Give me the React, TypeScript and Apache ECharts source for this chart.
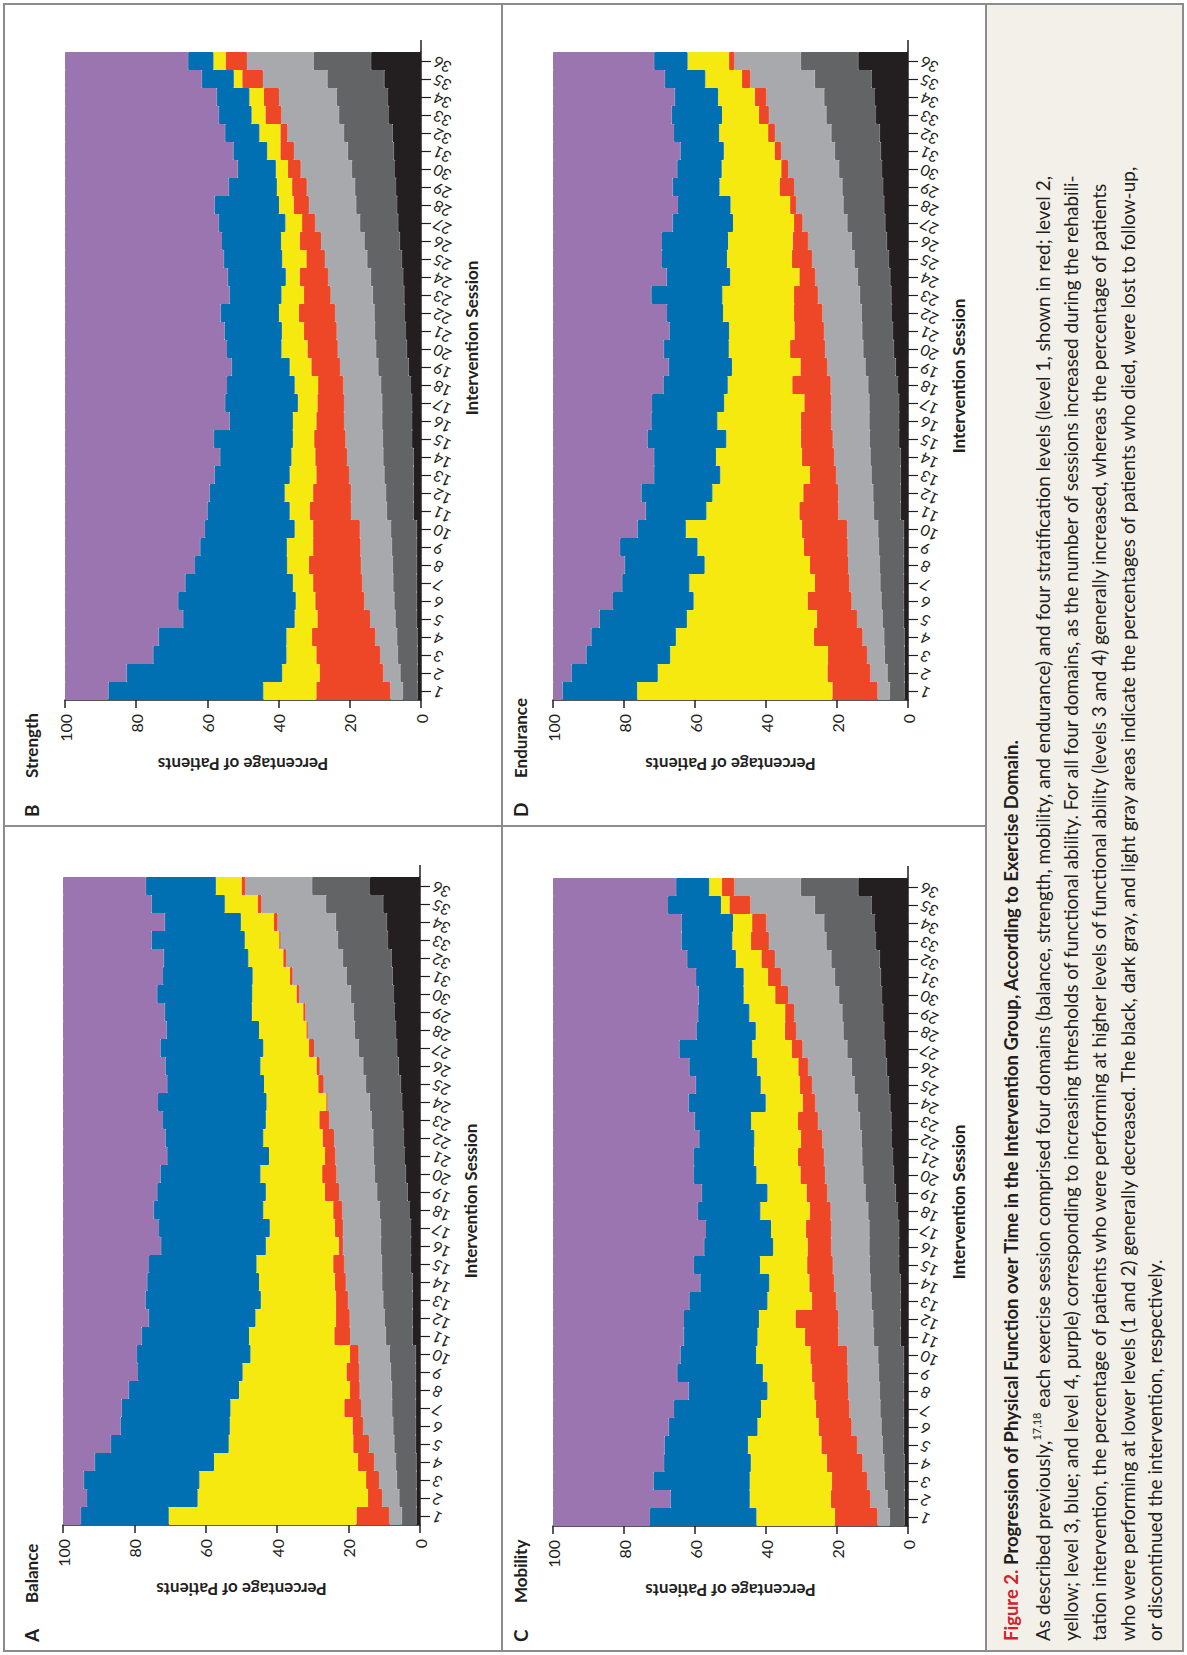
import React, { useEffect, useRef } from "react";
import * as echarts from "echarts";

const FONT = "Lato, 'Open Sans', 'DejaVu Sans', sans-serif";
const INK = "#231f20";

const sessions = ["1","2","3","4","5","6","7","8","9","10","11","12","13","14","15","16","17","18","19","20","21","22","23","24","25","26","27","28","29","30","31","32","33","34","35","36"];

// shared across the four domains (patient status)
const died = [1.0,1.0,1.0,1.0,1.2,1.2,1.2,1.2,1.2,1.2,2.1,2.1,2.1,2.1,2.5,2.5,2.5,2.8,3.5,4.0,4.2,4.5,4.7,5.0,5.4,6.0,6.4,6.7,7.0,7.3,7.7,8.0,9.0,9.3,10.3,14.0];
const lostToFollowUp = [4.1,4.8,5.5,5.7,6.0,6.3,6.6,6.7,7.0,7.2,7.5,7.7,8.2,8.5,8.2,8.4,8.4,8.4,8.5,8.6,8.7,8.6,8.9,9.1,9.7,9.9,10.7,11.5,11.5,12.1,12.9,13.6,14.0,14.3,16.0,16.2];
const discontinued = [3.5,4.8,5.0,6.1,7.1,8.4,8.7,9.0,8.8,8.8,10.0,9.9,9.9,10.2,10.5,10.7,10.7,10.6,10.7,10.8,10.8,11.0,11.8,12.0,11.9,12.2,12.6,13.3,13.6,14.4,15.1,15.9,16.2,16.3,18.1,18.7];

// A Balance
const balanceL1 = [9.2,4.0,3.6,4.6,4.4,3.0,4.7,2.7,3.6,2.4,4.4,3.9,3.4,3.0,3.1,1.2,2.2,2.5,3.9,4.0,2.9,3.2,2.8,0.1,1.5,0.9,1.4,0.3,0.6,0.8,0.7,0.8,0.2,1.0,1.1,1.1];
const balanceL2 = [52.6,47.7,46.7,40.3,34.9,34.4,31.9,31.1,29.1,27.9,23.9,22.5,21.0,21.3,21.5,20.4,18.3,19.6,16.6,17.3,15.7,16.6,15.0,16.8,15.2,15.7,12.8,13.3,14.4,12.4,10.5,9.8,9.7,9.3,9.2,7.2];
const balanceL3 = [24.6,31.0,32.4,33.4,33.0,30.6,30.5,30.9,29.3,31.8,30.1,29.9,32.3,31.3,30.1,29.3,31.0,30.7,30.4,28.0,28.5,27.4,28.8,30.4,27.1,26.6,28.8,25.9,24.4,26.6,25.1,23.7,26.1,21.3,20.5,19.6];
const balanceL4 = [5.0,6.7,5.8,8.9,13.4,16.1,16.4,18.4,21.0,20.7,22.0,24.0,23.1,23.6,24.1,27.5,26.9,25.4,26.4,27.3,29.2,28.7,28.0,26.6,29.2,28.7,27.3,29.0,28.5,26.4,28.0,28.2,24.8,28.5,24.8,23.2];

// B Strength
const strengthL1 = [20.8,17.9,17.9,17.8,14.8,13.8,13.8,14.6,13.3,13.1,11.7,10.6,9.2,8.9,8.8,7.8,7.5,7.1,8.1,8.5,9.2,10.2,7.5,8.0,5.2,6.0,3.7,4.3,4.1,3.6,3.8,2.0,4.5,4.2,5.8,6.0];
const strengthL2 = [14.9,10.5,8.4,7.2,6.4,5.5,5.7,6.1,7.4,5.2,5.6,8.0,7.5,6.7,6.0,6.6,5.5,6.6,6.1,7.3,6.2,5.6,6.3,3.9,6.8,5.2,4.7,4.1,4.3,3.4,3.7,5.9,3.9,4.1,2.4,3.4];
const strengthL3 = [43.5,43.7,37.4,35.9,31.3,33.0,30.2,25.9,24.3,25.2,23.1,21.1,21.1,20.0,22.2,17.8,20.4,19.0,16.3,15.3,16.1,16.4,14.6,16.3,16.4,16.6,18.7,18.1,13.5,10.7,9.5,9.6,9.2,9.2,9.0,7.1];
const strengthL4 = [12.2,17.3,24.8,26.3,33.2,31.8,33.8,36.5,38.0,39.3,40.0,40.6,42.0,43.6,41.8,46.2,45.0,45.5,46.8,45.5,44.8,43.7,46.2,45.7,44.6,44.1,43.2,42.0,46.0,48.5,47.3,45.0,43.2,42.6,38.4,34.6];

// C Mobility
const mobilityL1 = [12.0,11.1,10.0,10.1,10.1,9.3,9.4,9.5,10.1,10.3,9.4,12.0,6.9,7.0,7.2,6.7,7.2,5.9,5.9,6.9,7.3,6.1,5.6,3.6,3.5,2.8,3.1,3.2,2.5,3.6,3.8,3.8,5.1,4.0,5.9,3.6];
const mobilityL2 = [22.1,22.9,23.1,21.4,20.7,17.2,15.5,13.2,13.8,15.3,13.4,10.3,12.5,11.3,13.3,9.7,9.8,13.9,11.0,12.4,12.4,13.1,13.2,10.4,11.0,11.6,11.1,8.2,10.1,8.9,6.8,7.2,5.2,5.4,2.4,3.5];
const mobilityL3 = [30.0,22.3,27.1,24.4,23.5,25.0,24.5,22.2,24.1,21.3,20.8,21.1,22.0,19.4,18.6,19.4,18.3,17.6,18.5,17.6,16.9,15.5,15.9,21.7,18.3,19.1,20.5,16.7,14.4,12.7,13.4,13.7,14.3,14.5,14.9,9.3];
const mobilityL4 = [27.3,33.1,28.3,31.3,31.4,32.6,34.1,38.2,35.0,35.9,36.8,36.9,38.4,41.5,39.7,42.6,43.1,40.8,41.9,39.7,39.7,41.2,39.9,38.2,40.2,38.4,35.6,40.4,40.9,41.0,40.3,37.8,36.2,36.2,32.4,34.7];

// D Endurance
const enduranceL1 = [12.7,12.1,11.1,13.7,11.4,12.4,9.7,10.7,12.3,12.7,11.0,9.8,7.4,9.1,9.0,8.6,7.6,10.8,7.6,9.8,8.3,8.0,6.7,4.5,5.7,4.4,2.4,1.7,4.1,1.9,1.9,1.9,2.8,3.3,2.4,1.5];
const enduranceL2 = [55.0,47.8,44.4,38.9,36.6,32.1,35.4,29.7,30.0,32.7,26.2,25.6,25.3,24.2,21.0,23.5,22.6,18.2,19.3,17.3,18.4,20.0,20.2,19.5,18.3,18.2,17.2,16.8,16.9,16.8,14.3,13.8,10.4,10.3,10.3,11.7];
const enduranceL3 = [21.0,24.3,23.6,23.8,24.6,22.7,18.9,22.5,21.8,13.6,17.1,20.0,18.6,17.4,22.2,18.6,20.3,18.1,17.8,18.3,16.8,15.8,20.0,17.9,18.3,18.6,17.0,14.8,13.2,12.5,12.2,12.7,14.2,12.2,11.4,9.4];
const enduranceL4 = [2.7,5.2,9.4,10.8,13.1,16.9,19.5,20.2,18.9,23.8,26.1,24.9,28.5,28.5,26.6,27.7,27.9,31.1,32.6,31.2,32.8,32.1,27.7,32.0,30.7,30.7,33.7,35.2,33.7,35.0,35.9,34.1,33.4,34.3,31.5,28.5];

const layerNames = ["Died", "Lost to follow-up", "Discontinued", "Level 1", "Level 2", "Level 3", "Level 4"];
const layerColors = [INK, "#636466", "#a7a9ac", "#ee4728", "#f5e90f", "#0070b3", "#9b75b0"];

const panels = [
  { letter: "A", title: "Balance", layers: [died, lostToFollowUp, discontinued, balanceL1, balanceL2, balanceL3, balanceL4],
    grid: { left: 63, top: 877, width: 357, height: 648 }, label: { x: 31, y: 1642 }, nameShift: 0 },
  { letter: "B", title: "Strength", layers: [died, lostToFollowUp, discontinued, strengthL1, strengthL2, strengthL3, strengthL4],
    grid: { left: 65, top: 52, width: 356, height: 648 }, label: { x: 31, y: 817 }, nameShift: 38 },
  { letter: "C", title: "Mobility", layers: [died, lostToFollowUp, discontinued, mobilityL1, mobilityL2, mobilityL3, mobilityL4],
    grid: { left: 553, top: 878, width: 355, height: 648 }, label: { x: 520, y: 1642 }, nameShift: 0 },
  { letter: "D", title: "Endurance", layers: [died, lostToFollowUp, discontinued, enduranceL1, enduranceL2, enduranceL3, enduranceL4],
    grid: { left: 553, top: 52, width: 355, height: 648 }, label: { x: 520, y: 817 }, nameShift: 0 },
];

const captionTitle = "Progression of Physical Function over Time in the Intervention Group, According to Exercise Domain.";
const captionLines = [
  "As described previously,{s|17,18} each exercise session comprised four domains (balance, strength, mobility, and endurance) and four stratification levels (level 1, shown in red; level 2,",
  "yellow; level 3, blue; and level 4, purple) corresponding to increasing thresholds of functional ability. For all four domains, as the number of sessions increased during the rehabili-",
  "tation intervention, the percentage of patients who were performing at higher levels of functional ability (levels 3 and 4) generally increased, whereas the percentage of patients",
  "who were performing at lower levels (1 and 2) generally decreased. The black, dark gray, and light gray areas indicate the percentages of patients who died, were lost to follow-up,",
  "or discontinued the intervention, respectively.",
];

function buildOption() {
  const grid = panels.map((p) => ({ ...p.grid, containLabel: false }));
  const xAxis = panels.map((p, i) => ({
    gridIndex: i,
    type: "value",
    min: 0,
    max: 100,
    interval: 20,
    inverse: true,
    position: "bottom",
    axisLine: { show: true, onZero: false, lineStyle: { color: INK, width: 1.5 } },
    axisTick: { show: true, length: 8, lineStyle: { color: INK, width: 1.5 } },
    axisLabel: { rotate: 90, margin: 14, fontSize: 16, color: INK, fontFamily: FONT },
    splitLine: { show: false },
    name: "Percentage of Patients",
    nameLocation: "middle",
    nameRotate: 180,
    nameGap: 56,
    nameTextStyle: { fontSize: 17, fontWeight: "bold", color: INK, fontFamily: FONT },
  }));
  const yAxis = panels.map((p, i) => ({
    gridIndex: i,
    type: "category",
    data: sessions,
    position: "right",
    axisLine: { show: true, onZero: false, lineStyle: { color: INK, width: 1.5 } },
    axisTick: { show: true, alignWithLabel: true, interval: 0, length: 10, lineStyle: { color: INK, width: 1.2 } },
    axisLabel: { interval: 0, rotate: 155, margin: 13, fontSize: 15.5, color: INK, fontFamily: FONT },
    name: "Intervention Session",
    nameLocation: "middle",
    nameRotate: 90,
    nameGap: 42,
    nameTextStyle: {
      fontSize: 17, fontWeight: "bold", color: INK, fontFamily: FONT,
      padding: [0, 0, 0, p.nameShift * 2],
    },
  }));
  const series: any[] = [];
  panels.forEach((p, i) => {
    p.layers.forEach((data, k) => {
      series.push({
        type: "bar",
        name: layerNames[k],
        xAxisIndex: i,
        yAxisIndex: i,
        stack: "panel" + i,
        barCategoryGap: "0%",
        data,
        itemStyle: { color: layerColors[k], borderColor: layerColors[k], borderWidth: 1 },
        emphasis: { disabled: true },
      });
    });
  });

  const stroke = "#8c8c8c";
  const graphic: any[] = [
    { type: "rect", shape: { x: 4, y: 4, width: 1179, height: 1647 }, style: { fill: "none", stroke, lineWidth: 2 } },
    { type: "rect", shape: { x: 986, y: 4, width: 197, height: 1647 }, style: { fill: "#f3f0e9", stroke, lineWidth: 2 } },
    { type: "line", shape: { x1: 502, y1: 4, x2: 502, y2: 1651 }, style: { stroke, lineWidth: 2 } },
    { type: "line", shape: { x1: 4, y1: 826, x2: 986, y2: 826 }, style: { stroke, lineWidth: 2 } },
  ];
  panels.forEach((p) => {
    const ax = p.grid.left + p.grid.width;
    graphic.push({ type: "line", shape: { x1: ax, y1: p.grid.top - 12, x2: ax, y2: p.grid.top }, style: { stroke: INK, lineWidth: 1.5 } });
    graphic.push({
      type: "text", x: p.label.x, y: p.label.y, rotation: Math.PI / 2,
      style: { text: p.letter, fontSize: 19, fontWeight: "bold", fontFamily: FONT, fill: INK, textAlign: "left", textVerticalAlign: "middle", align: "left", verticalAlign: "middle" },
    });
    graphic.push({
      type: "text", x: p.label.x, y: p.label.y - 39, rotation: Math.PI / 2,
      style: { text: p.title, fontSize: 17, fontWeight: "bold", fontFamily: FONT, fill: INK, textAlign: "left", textVerticalAlign: "middle", align: "left", verticalAlign: "middle" },
    });
  });

  const capX = [1011, 1042, 1070, 1098, 1127, 1154];
  const capY = 1641;
  graphic.push({
    type: "text", x: capX[0], y: capY, rotation: Math.PI / 2,
    style: {
      text: "{r|Figure 2.} {b|" + captionTitle + "}",
      fontFamily: FONT, fontSize: 18, fill: INK,
      textAlign: "left", textVerticalAlign: "middle", align: "left", verticalAlign: "middle",
      rich: {
        r: { fontSize: 18.5, fontWeight: "bold", fill: "#d2232a", color: "#d2232a", fontFamily: FONT },
        b: { fontSize: 18.5, fontWeight: "bold", fill: INK, color: INK, fontFamily: FONT },
      },
    },
  });
  captionLines.forEach((line, i) => {
    graphic.push({
      type: "text", x: capX[i + 1], y: capY, rotation: Math.PI / 2,
      style: {
        text: line, fontFamily: FONT, fontSize: 19, fill: INK,
        textAlign: "left", textVerticalAlign: "middle", align: "left", verticalAlign: "middle",
        rich: { s: { fontSize: 11, verticalAlign: "top", fill: INK, color: INK, fontFamily: FONT, lineHeight: 22 } },
      },
    });
  });

  return { animation: false, backgroundColor: "#ffffff", grid, xAxis, yAxis, series, graphic };
}

export default function App() {
  const ref = useRef<HTMLDivElement>(null);
  useEffect(() => {
    if (!ref.current) return;
    const chart = echarts.init(ref.current, null, { renderer: "svg" });
    chart.setOption(buildOption() as any);
    return () => chart.dispose();
  }, []);
  return (
    <div
      ref={ref}
      style={{ position: "absolute", left: 0, top: 0, width: 1187, height: 1655, background: "#fff" }}
    />
  );
}
